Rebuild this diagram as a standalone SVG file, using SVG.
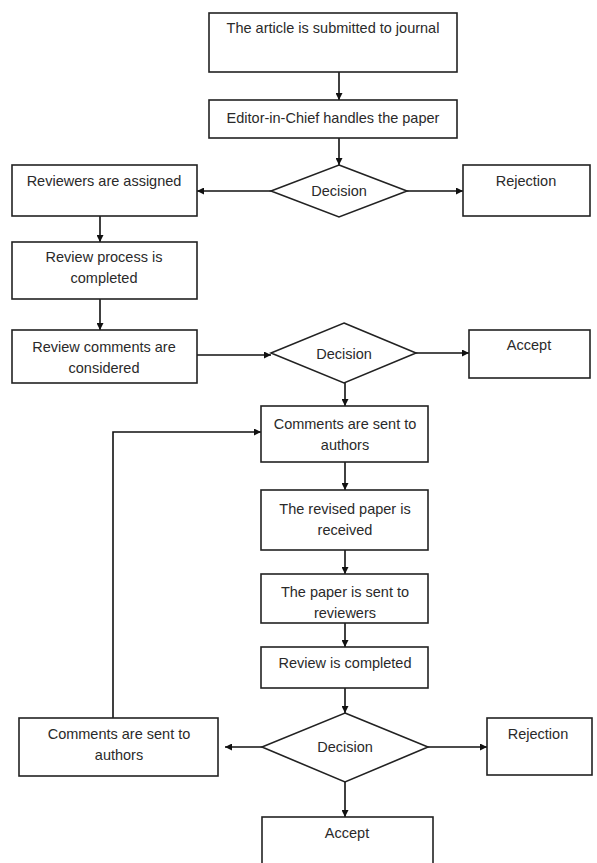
<svg xmlns="http://www.w3.org/2000/svg" width="597" height="863" viewBox="0 0 597 863">
<defs>
<marker id="ah" viewBox="0 0 10 10" refX="10" refY="5" markerWidth="7" markerHeight="7" markerUnits="userSpaceOnUse" orient="auto">
<path d="M0,0 L10,5 L0,10 z" fill="#111"/>
</marker>
</defs>
<style>
.b{fill:#fff;stroke:#222;stroke-width:1.6}
.t{font-family:"Liberation Sans",Arial,sans-serif;font-size:14.5px;fill:#2a2a2a;text-anchor:middle}
.c{fill:none;stroke:#111;stroke-width:1.6;marker-end:url(#ah)}
.l{fill:none;stroke:#111;stroke-width:1.6}
</style>
<rect width="597" height="863" fill="#fff"/>
<g id="connectors">
<path class="c" d="M339,72 V100"/>
<path class="c" d="M339,138 V165"/>
<path class="c" d="M271,191 H197"/>
<path class="c" d="M407,191 H463"/>
<path class="c" d="M100,216 V242"/>
<path class="c" d="M100,299 V330"/>
<path class="c" d="M197,355 H271"/>
<path class="c" d="M416,353 H469"/>
<path class="c" d="M345,383 V406"/>
<path class="c" d="M345,462 V490"/>
<path class="c" d="M345,550 V574"/>
<path class="c" d="M345,623 V647"/>
<path class="c" d="M345,688 V713"/>
<path class="c" d="M428,747 H487"/>
<path class="c" d="M262,747 H225"/>
<path class="c" d="M345,782 V817"/>
<path class="c" d="M113,718 V432 H261"/>
</g>
<g id="n1"><rect class="b" x="209" y="13" width="248" height="59"/><text class="t" x="333" y="33">The article is submitted to journal</text></g>
<g id="n2"><rect class="b" x="209" y="100" width="248" height="38"/><text class="t" x="333" y="123">Editor-in-Chief handles the paper</text></g>
<g id="d1"><polygon class="b" points="339,165 407,191 339,217 271,191"/><text class="t" x="339" y="196">Decision</text></g>
<g id="n3"><rect class="b" x="463" y="165" width="127" height="51"/><text class="t" x="526" y="186">Rejection</text></g>
<g id="n4"><rect class="b" x="12" y="165" width="185" height="51"/><text class="t" x="104" y="186">Reviewers are assigned</text></g>
<g id="n5"><rect class="b" x="12" y="242" width="185" height="57"/><text class="t" x="104" y="262">Review process is</text><text class="t" x="104" y="283">completed</text></g>
<g id="n6"><rect class="b" x="12" y="330" width="185" height="53"/><text class="t" x="104" y="352">Review comments are</text><text class="t" x="104" y="373">considered</text></g>
<g id="d2"><polygon class="b" points="344,323 416,353 344,383 271,353"/><text class="t" x="344" y="359">Decision</text></g>
<g id="n7"><rect class="b" x="469" y="330" width="121" height="48"/><text class="t" x="529" y="350">Accept</text></g>
<g id="n8"><rect class="b" x="261" y="406" width="167" height="56"/><text class="t" x="345" y="429">Comments are sent to</text><text class="t" x="345" y="450">authors</text></g>
<g id="n9"><rect class="b" x="261" y="490" width="167" height="60"/><text class="t" x="345" y="514">The revised paper is</text><text class="t" x="345" y="535">received</text></g>
<g id="n10"><rect class="b" x="261" y="574" width="167" height="49"/><text class="t" x="345" y="597">The paper is sent to</text><text class="t" x="345" y="618">reviewers</text></g>
<g id="n11"><rect class="b" x="261" y="647" width="167" height="41"/><text class="t" x="345" y="668">Review is completed</text></g>
<g id="d3"><polygon class="b" points="345,713 428,747 345,782 262,747"/><text class="t" x="345" y="752">Decision</text></g>
<g id="n12"><rect class="b" x="487" y="718" width="105" height="57"/><text class="t" x="538" y="739">Rejection</text></g>
<g id="n13"><rect class="b" x="19" y="718" width="199" height="58"/><text class="t" x="119" y="739">Comments are sent to</text><text class="t" x="119" y="760">authors</text></g>
<g id="n14"><rect class="b" x="262" y="817" width="171" height="60"/><text class="t" x="347" y="838">Accept</text></g>
</svg>
